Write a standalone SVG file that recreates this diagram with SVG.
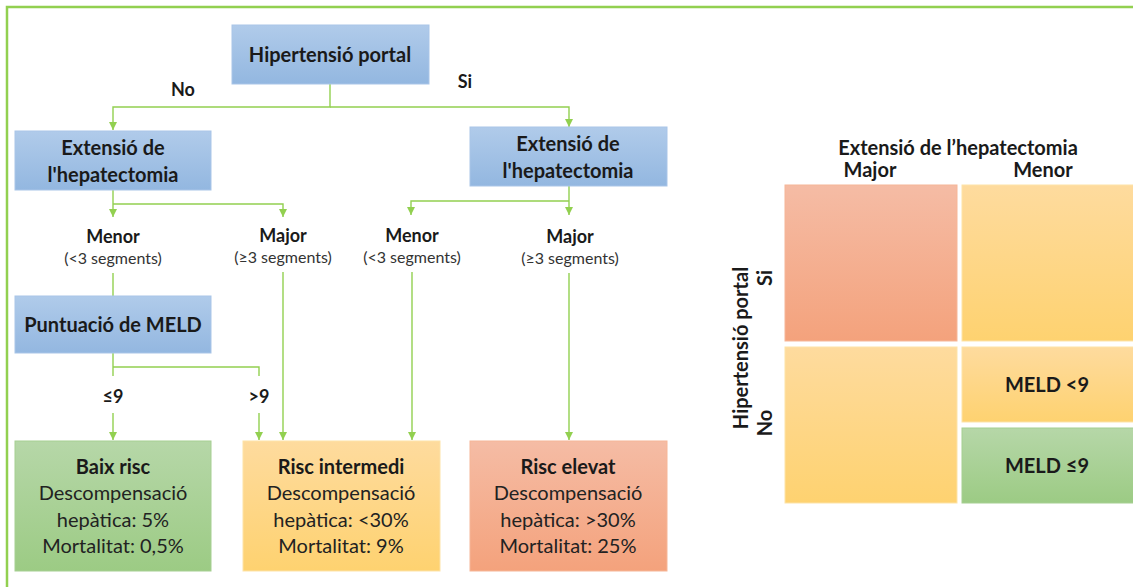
<svg xmlns="http://www.w3.org/2000/svg" width="1133" height="587" viewBox="0 0 1133 587">
  <defs>
    <linearGradient id="gBlue" x1="0" y1="0" x2="0" y2="1">
      <stop offset="0" stop-color="#b0cbea"/>
      <stop offset="1" stop-color="#93b7e0"/>
    </linearGradient>
    <linearGradient id="gGreen" x1="0" y1="0" x2="0" y2="1">
      <stop offset="0" stop-color="#b6d7a8"/>
      <stop offset="1" stop-color="#9ccb84"/>
    </linearGradient>
    <linearGradient id="gYellow" x1="0" y1="0" x2="0" y2="1">
      <stop offset="0" stop-color="#fedb9e"/>
      <stop offset="1" stop-color="#fed270"/>
    </linearGradient>
    <linearGradient id="gOrange" x1="0" y1="0" x2="0" y2="1">
      <stop offset="0" stop-color="#f5bca5"/>
      <stop offset="1" stop-color="#f4a27c"/>
    </linearGradient>
    <marker id="arrow" viewBox="0 0 8 8" refX="8" refY="4" markerWidth="8" markerHeight="8" markerUnits="userSpaceOnUse" orient="auto">
      <path d="M0,0 L8,4 L0,8 Z" fill="#92d050"/>
    </marker>
    <style>
      text { font-family: Lato, "Open Sans", "Liberation Sans", sans-serif; fill: #1a1a1a; text-anchor: middle; }
      .b { font-weight: bold; font-size: 20px; }
      .lbl { font-weight: bold; font-size: 18px; }
      .sub { font-size: 16px; fill: #333333; }
      .body { font-size: 20px; fill: #222222; }
      .blue { fill: url(#gBlue); stroke: #a9c5e8; stroke-width: 1; }
      .green { fill: url(#gGreen); stroke: #a6cf92; stroke-width: 1; }
      .yellow { fill: url(#gYellow); stroke: #fde3a8; stroke-width: 1; }
      .orange { fill: url(#gOrange); stroke: #f6b697; stroke-width: 1; }
      .conn { fill: none; stroke: #92d050; stroke-width: 1.4; }
      .frame { fill: none; stroke: #92d050; stroke-width: 2.5; }
    </style>
  </defs>

  <rect width="1133" height="587" fill="#ffffff"/>

  <!-- outer frame (top and left edges) -->
  <path class="frame" d="M7,590 L7,7 L1136,7"/>

  <!-- connectors -->
  <g id="connectors">
    <path class="conn" d="M330,84 V107 H113 V130" marker-end="url(#arrow)"/>
    <path class="conn" d="M330,107 H569 V127" marker-end="url(#arrow)"/>
    <path class="conn" d="M113,190 V217" marker-end="url(#arrow)"/>
    <path class="conn" d="M113,204 H283 V217" marker-end="url(#arrow)"/>
    <path class="conn" d="M569,186 V215" marker-end="url(#arrow)"/>
    <path class="conn" d="M569,201 H411 V215" marker-end="url(#arrow)"/>
    <path class="conn" d="M113,273 V296"/>
    <path class="conn" d="M113,353 V376"/>
    <path class="conn" d="M113,367 H259 V376"/>
    <path class="conn" d="M113,413 V440" marker-end="url(#arrow)"/>
    <path class="conn" d="M259,413 V440" marker-end="url(#arrow)"/>
    <path class="conn" d="M283,272 V440" marker-end="url(#arrow)"/>
    <path class="conn" d="M412,272 V440" marker-end="url(#arrow)"/>
    <path class="conn" d="M569,273 V440" marker-end="url(#arrow)"/>
  </g>

  <!-- connector labels -->
  <g id="labels">
    <text class="lbl" x="183" y="96">No</text>
    <text class="lbl" x="465" y="88">Si</text>
    <text class="lbl" x="113" y="243">Menor</text>
    <text class="sub" x="113" y="264">(&lt;3 segments)</text>
    <text class="lbl" x="283" y="242">Major</text>
    <text class="sub" x="283" y="263">(≥3 segments)</text>
    <text class="lbl" x="412" y="242">Menor</text>
    <text class="sub" x="412" y="263">(&lt;3 segments)</text>
    <text class="lbl" x="570" y="243">Major</text>
    <text class="sub" x="570" y="264">(≥3 segments)</text>
    <text class="lbl" x="113" y="403">≤9</text>
    <text class="lbl" x="259" y="403">&gt;9</text>
  </g>

  <g id="hipertensio">
    <rect class="blue" x="232" y="25" width="197" height="59"/>
    <text class="b" x="330" y="62">Hipertensió portal</text>
  </g>

  <g id="extensio-no">
    <rect class="blue" x="15" y="131" width="196" height="59"/>
    <text class="b" x="113" y="155">Extensió de</text>
    <text class="b" x="113" y="182">l'hepatectomia</text>
  </g>

  <g id="extensio-si">
    <rect class="blue" x="470" y="127" width="197" height="59"/>
    <text class="b" x="568" y="151">Extensió de</text>
    <text class="b" x="568" y="178">l'hepatectomia</text>
  </g>

  <g id="meld">
    <rect class="blue" x="15" y="296" width="196" height="57"/>
    <text class="b" x="113" y="332">Puntuació de MELD</text>
  </g>

  <g id="baix-risc">
    <rect class="green" x="15" y="441" width="196" height="130"/>
    <text class="b" x="113" y="474">Baix risc</text>
    <text class="body" x="113" y="500">Descompensació</text>
    <text class="body" x="113" y="527">hepàtica: 5%</text>
    <text class="body" x="113" y="553">Mortalitat: 0,5%</text>
  </g>

  <g id="risc-intermedi">
    <rect class="yellow" x="243" y="441" width="197" height="130"/>
    <text class="b" x="341" y="474">Risc intermedi</text>
    <text class="body" x="341" y="500">Descompensació</text>
    <text class="body" x="341" y="527">hepàtica: &lt;30%</text>
    <text class="body" x="341" y="553">Mortalitat: 9%</text>
  </g>

  <g id="risc-elevat">
    <rect class="orange" x="470" y="441" width="197" height="130"/>
    <text class="b" x="568" y="474">Risc elevat</text>
    <text class="body" x="568" y="500">Descompensació</text>
    <text class="body" x="568" y="527">hepàtica: &gt;30%</text>
    <text class="body" x="568" y="553">Mortalitat: 25%</text>
  </g>

  <!-- risk matrix -->
  <g id="matrix">
    <text class="b" x="958" y="155">Extensió de l’hepatectomia</text>
    <text class="b" x="870" y="177">Major</text>
    <text class="b" x="1043" y="177">Menor</text>
    <text class="b" transform="translate(748,348) rotate(-90)">Hipertensió portal</text>
    <text class="b" transform="translate(772,278) rotate(-90)">Si</text>
    <text class="b" transform="translate(772,423) rotate(-90)">No</text>

    <g id="cell-major-si"><rect class="orange" x="785" y="185" width="172" height="156"/></g>
    <g id="cell-menor-si"><rect class="yellow" x="962" y="185" width="175" height="156"/></g>
    <g id="cell-major-no"><rect class="yellow" x="785" y="347" width="172" height="156"/></g>
    <g id="cell-meld-high">
      <rect class="yellow" x="962" y="347" width="175" height="75"/>
      <text class="b" x="1047" y="392">MELD &lt;9</text>
    </g>
    <g id="cell-meld-low">
      <rect class="green" x="962" y="428" width="175" height="75"/>
      <text class="b" x="1047" y="473">MELD ≤9</text>
    </g>
  </g>
</svg>
